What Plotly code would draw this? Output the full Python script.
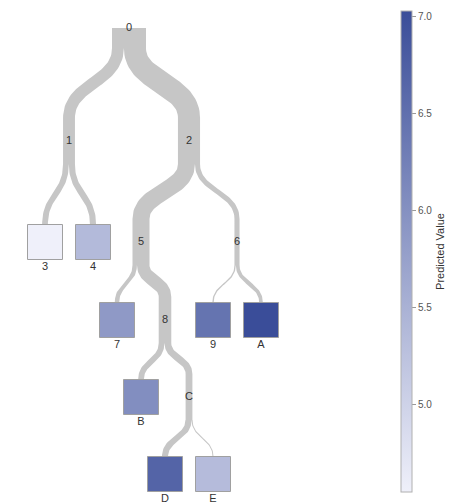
import numpy as np
import plotly.graph_objects as go

# ---- data ----
node_ids = ["0", "1", "2", "3", "4", "5", "6", "7", "8", "9", "A", "B", "C", "D", "E"]
parent_ids = ["", "0", "0", "1", "1", "2", "2", "5", "5", "6", "6", "8", "8", "C", "C"]
samples = [100, 35, 65, 17, 18, 50, 15, 13, 37, 4, 11, 17, 20, 18, 2]
leaf_ids = ["3", "4", "7", "9", "A", "B", "D", "E"]
leaf_values = [4.55, 5.37, 5.87, 6.44, 7.03, 6.04, 6.68, 5.35]
colorbar_ticks = [5.0, 5.5, 6.0, 6.5, 7.0]
colorbar_title = "Predicted Value"

# ---- layout constants (screen pixels; page body has an 8px margin) ----
PAGE_W, PAGE_H = 454, 503
OFF = 8
W, H = PAGE_W - OFF, PAGE_H - OFF
LEVEL_Y = [28, 141, 242, 320, 397, 474]
UNIT = 24
X0 = 45
SEP = 2
PX_PER_SAMPLE = 0.34
HALF_SEG = 23
ROOT_SEG = 20
BOX = 35
BAND = "#c6c6c6"
FONT = "Liberation Sans, Arial"

children = {n: [] for n in node_ids}
for n, p in zip(node_ids, parent_ids):
    if p:
        children[p].append(n)
n_samp = dict(zip(node_ids, samples))
root = node_ids[parent_ids.index("")]


def tidy(n):
    """Reingold-Tilford style layout: returns relative positions and contour."""
    if not children[n]:
        return {n: 0.0}, {0: (0.0, 0.0)}
    l, r = children[n]
    pl, cl = tidy(l)
    pr, cr = tidy(r)
    shift = SEP
    for d in cl:
        if d in cr:
            shift = max(shift, SEP + cl[d][1] - cr[d][0])
    pos = {n: 0.0}
    for k, v in pl.items():
        pos[k] = v - shift / 2
    for k, v in pr.items():
        pos[k] = v + shift / 2
    cont = {0: (0.0, 0.0)}
    for d in set(cl) | set(cr):
        lo, hi = [], []
        if d in cl:
            lo.append(cl[d][0] - shift / 2); hi.append(cl[d][1] - shift / 2)
        if d in cr:
            lo.append(cr[d][0] + shift / 2); hi.append(cr[d][1] + shift / 2)
        cont[d + 1] = (min(lo), max(hi))
    return pos, cont


rel, _ = tidy(root)
mn = min(rel.values())
xpos = {k: X0 + UNIT * (v - mn) for k, v in rel.items()}
depth = {root: 0}
for n in node_ids:
    if n != root:
        depth[n] = depth[parent_ids[node_ids.index(n)]] + 1
ypos = {n: LEVEL_Y[depth[n]] for n in node_ids}
wid = {n: max(1.0, n_samp[n] * PX_PER_SAMPLE) for n in node_ids}

bx, by = [], []


def add_poly(xs, ys):
    bx.extend(list(xs) + [xs[0], None])
    by.extend(list(ys) + [ys[0], None])


def band(x0, y0, x1, y1, w):
    t = np.linspace(0, 1, 40)
    ym = (y0 + y1) / 2
    P = np.array([[x0, y0], [x0, ym], [x1, ym], [x1, y1]])
    B = ((1 - t) ** 3)[:, None] * P[0] + (3 * (1 - t) ** 2 * t)[:, None] * P[1] \
        + (3 * (1 - t) * t ** 2)[:, None] * P[2] + (t ** 3)[:, None] * P[3]
    D = (3 * (1 - t) ** 2)[:, None] * (P[1] - P[0]) + (6 * (1 - t) * t)[:, None] * (P[2] - P[1]) \
        + (3 * t ** 2)[:, None] * (P[3] - P[2])
    nrm = np.stack([-D[:, 1], D[:, 0]], axis=1)
    nrm /= np.linalg.norm(nrm, axis=1)[:, None]
    L = B + nrm * w / 2
    R = B - nrm * w / 2
    pts = np.vstack([L, R[::-1]])
    add_poly(pts[:, 0], pts[:, 1])


for n in node_ids:
    if not children[n]:
        continue
    x, y, w = xpos[n], ypos[n], wid[n]
    top = y if n == root else y - HALF_SEG
    bot = y + (ROOT_SEG if n == root else HALF_SEG)
    add_poly([x - w / 2, x + w / 2, x + w / 2, x - w / 2], [top, top, bot, bot])
    l, r = children[n]
    tot = wid[l] + wid[r]
    offs = {l: -tot / 2 + wid[l] / 2, r: tot / 2 - wid[r] / 2}
    for c in (l, r):
        yc = ypos[c] - (HALF_SEG if children[c] else BOX / 2)
        band(x + offs[c], bot, xpos[c], yc, wid[c])

fig = go.Figure()
fig.add_trace(go.Scatter(x=bx, y=by, mode="lines", fill="toself", fillcolor=BAND,
                         line=dict(width=0, color=BAND), hoverinfo="skip", showlegend=False))

internal = [n for n in node_ids if children[n]]
fig.add_trace(go.Scatter(
    x=[xpos[n] for n in internal], y=[ypos[n] for n in internal],
    mode="text", text=internal, textposition="middle center",
    textfont=dict(family=FONT, size=11, color="#333"),
    hoverinfo="skip", showlegend=False, cliponaxis=False))

cmin, cmax = min(leaf_values), max(leaf_values)
fig.add_trace(go.Scatter(
    x=[xpos[n] for n in leaf_ids], y=[ypos[n] for n in leaf_ids],
    mode="markers",
    marker=dict(symbol="square", size=BOX, color=leaf_values,
                colorscale=[[0, "#eff0fa"], [1, "#3a4d99"]], cmin=cmin, cmax=cmax,
                line=dict(width=1, color="#a0a0a0"),
                showscale=True,
                colorbar=dict(
                    x=(401 - OFF) / W, xanchor="left", xpad=0,
                    y=1 - ((11 + 492) / 2 - OFF) / H, yanchor="middle", ypad=0,
                    len=481, lenmode="pixels", thickness=11,
                    outlinewidth=1, outlinecolor="#b0b0b0",
                    tickvals=colorbar_ticks, tickformat=".1f",
                    ticks="outside", ticklen=4, tickcolor="#999",
                    tickfont=dict(family=FONT, size=10, color="#555"),
                    title=dict(text=colorbar_title, side="right",
                               font=dict(family=FONT, size=11, color="#333")),
                )),
    hoverinfo="skip", showlegend=False))

fig.add_trace(go.Scatter(
    x=[xpos[n] for n in leaf_ids], y=[ypos[n] + BOX / 2 + 8 for n in leaf_ids],
    mode="text", text=leaf_ids, textposition="middle center",
    textfont=dict(family=FONT, size=11, color="#333"),
    hoverinfo="skip", showlegend=False, cliponaxis=False))

# axes in screen-pixel units so the page offset is compensated
fig.update_xaxes(range=[OFF, PAGE_W], visible=False, fixedrange=True)
fig.update_yaxes(range=[PAGE_H, OFF], visible=False, fixedrange=True)
fig.update_layout(width=W, height=H, margin=dict(l=0, r=0, t=0, b=0, autoexpand=False),
                  plot_bgcolor="white", paper_bgcolor="white")
fig.write_html("out.html")
